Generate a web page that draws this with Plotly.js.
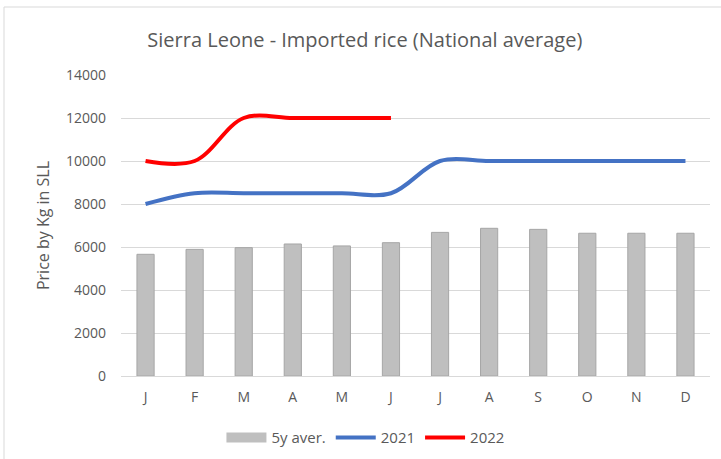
<!DOCTYPE html>
<html>
<head>
<meta charset="utf-8">
<script src="https://cdn.plot.ly/plotly-3.0.1.min.js"></script>
<style>html,body{margin:0;padding:0;background:#fff;}#chart{width:721px;height:459px;}</style>
</head>
<body>
<div id="chart"></div>
<script>
var months = ["J","F","M","A","M","J","J","A","S","O","N","D"];
var monthKeys = ["Jan","Feb","Mar","Apr","May","Jun","Jul","Aug","Sep","Oct","Nov","Dec"];
var avg5y = [5660, 5890, 5970, 6140, 6050, 6200, 6680, 6870, 6820, 6640, 6640, 6640];
var y2021 = [8000, 8500, 8500, 8500, 8500, 8500, 10000, 10000, 10000, 10000, 10000, 10000];
var y2022 = [10000, 10000, 12000, 12000, 12000, 12000];
var yTicks = [0, 2000, 4000, 6000, 8000, 10000, 12000, 14000];
var yTickText = ["0","2000","4000","6000","8000","10000","12000","14000"];

var font = "Open Sans, Noto Sans, sans-serif";
var grey = "#595959";

var traces = [
  {type:"bar", name:"5y aver.", x:monthKeys, y:avg5y, showlegend:false,
   marker:{color:"#bfbfbf", line:{color:"#a6a6a6", width:1}}},
  {type:"scatter", mode:"lines", name:"5y aver.", x:[null], y:[null], showlegend:true,
   line:{color:"#bfbfbf", width:11}},
  {type:"scatter", mode:"lines", name:"2021", x:monthKeys, y:y2021,
   line:{color:"#4472c4", width:4, shape:"spline", smoothing:1}},
  {type:"scatter", mode:"lines", name:"2022", x:monthKeys.slice(0, y2022.length), y:y2022,
   line:{color:"#ff0000", width:4, shape:"spline", smoothing:1}}
];

var layout = {
  width:721, height:459,
  margin:{l:121, r:11, t:75, b:83, autoexpand:false},
  paper_bgcolor:"#ffffff", plot_bgcolor:"#ffffff",
  font:{family:font, color:grey, size:14},
  title:{text:"Sierra Leone - Imported rice (National average)", x:0.414, xanchor:"center", xref:"paper", y:0.913, yanchor:"middle",
         font:{family:font, size:20, color:grey}},
  bargap:0.65,
  showlegend:true,
  legend:{orientation:"h", x:0.415, xanchor:"center", y:-0.205, yanchor:"middle",
          font:{family:font, size:15, color:grey}, traceorder:"normal", itemwidth:40},
  xaxis:{type:"category", categoryorder:"array", categoryarray:monthKeys,
         tickmode:"array", tickvals:monthKeys, ticktext:months,
         showgrid:false, zeroline:false, showline:true, linecolor:"#d9d9d9", linewidth:1,
         ticks:"", tickfont:{family:font, size:14, color:grey}, ticklabelstandoff:8},
  yaxis:{range:[0,14000], tickmode:"array", tickvals:yTicks, ticktext:yTickText,
         showgrid:true, gridcolor:"#d9d9d9", gridwidth:1, zeroline:false, showline:false,
         ticks:"", tickfont:{family:font, size:14, color:grey}, ticklabelstandoff:14,
         title:{text:"Price by Kg in SLL", font:{family:font, size:16, color:grey}, standoff:12}},
  shapes:[
    {type:"rect", xref:"paper", yref:"paper", x0:-117/589, x1:1.05, y0:-0.5, y1:(376-7)/301,
     line:{color:"#d9d9d9", width:1}, fillcolor:"rgba(0,0,0,0)", layer:"below"}
  ]
};

Plotly.newPlot("chart", traces, layout, {displayModeBar:false, staticPlot:true});
</script>
</body>
</html>
